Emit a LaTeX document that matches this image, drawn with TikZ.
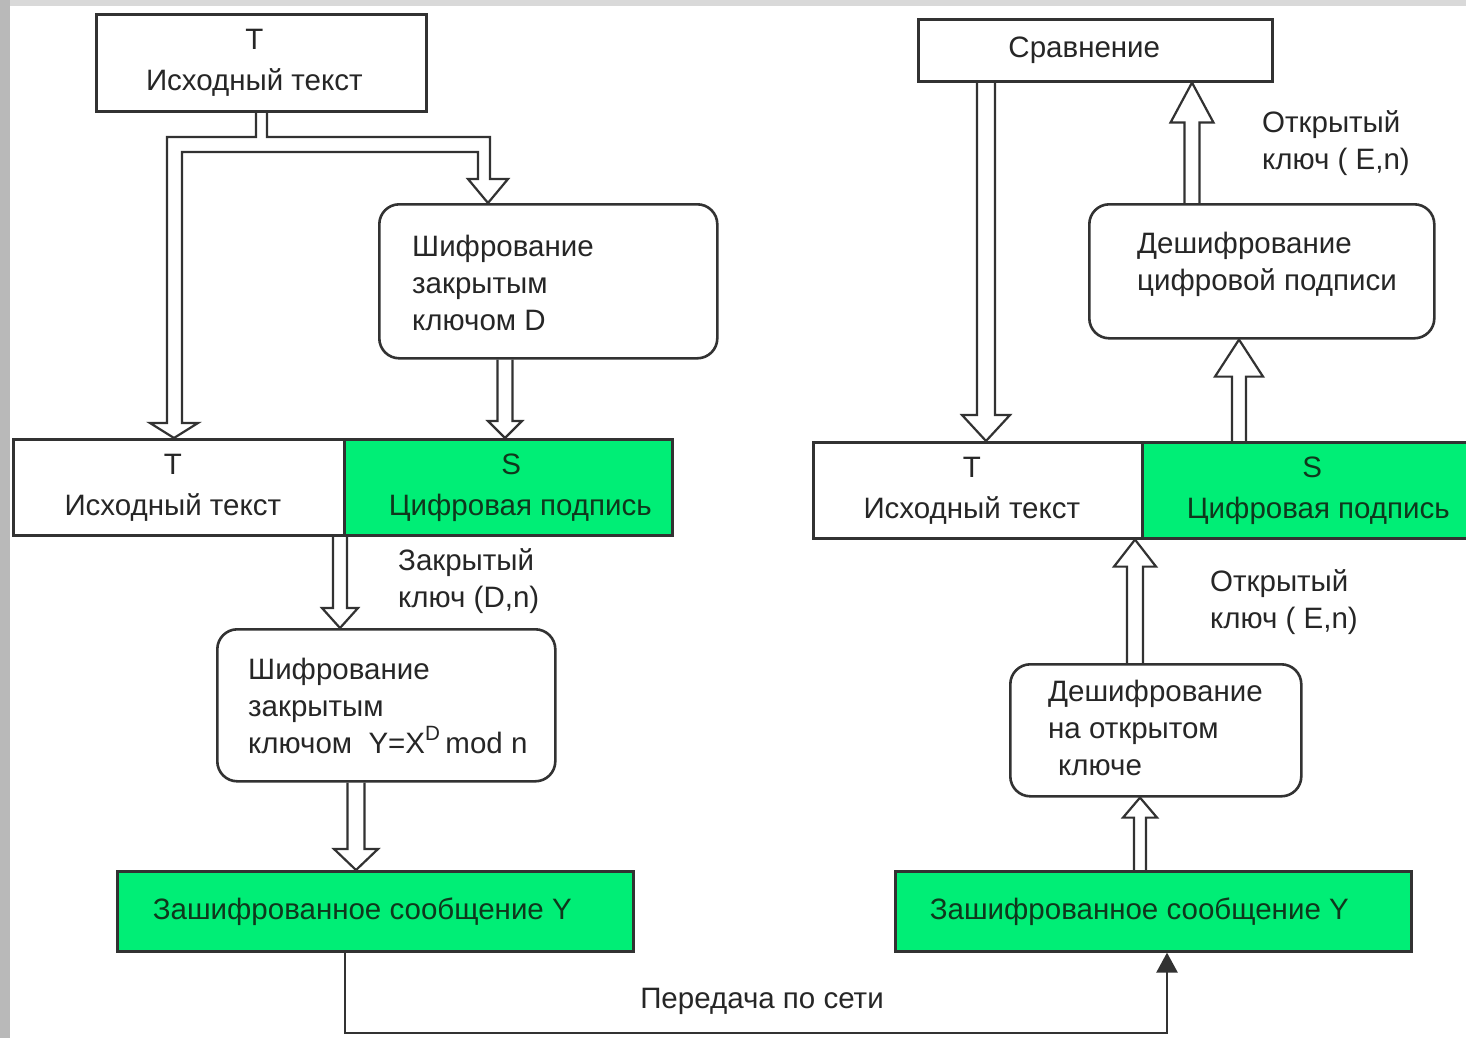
\documentclass[tikz,border=0pt]{standalone}
\usepackage{fontspec}
\setmainfont{Liberation Sans}
\usetikzlibrary{arrows.meta,calc}
\definecolor{grn}{RGB}{0,238,118}
\definecolor{ln}{RGB}{50,50,50}
\definecolor{txt}{RGB}{38,38,38}
\definecolor{gtxt}{RGB}{15,55,28}
\newcommand\dgfont{\fontsize{29.5}{37}\selectfont}
\newcommand\harrow[5]{%
  \path[hollow] ($(#1)+(-#3,0)$) -- ($(#2)+(-#3,#5)$) -- ($(#2)+(-#3-#4,#5)$) -- (#2)
    -- ($(#2)+(#3+#4,#5)$) -- ($(#2)+(#3,#5)$) -- ($(#1)+(#3,0)$);}
\tikzset{
  box/.style={draw=ln, line width=2.6pt, rectangle, anchor=north west, inner sep=0pt,
    align=center, text=txt, font=\dgfont},
  gbox/.style={box, fill=grn, text=gtxt},
  rbox/.style={box, rounded corners=20pt},
  hollow/.style={draw=ln, line width=2.2pt, line join=miter},
  lbl/.style={align=left, text=txt, font=\dgfont, inner sep=0pt},
  conn/.style={draw=ln, line width=2.5pt, -{Triangle[length=20pt,width=21pt]}},
}
\begin{document}
\begin{tikzpicture}[x=1pt,y=-1pt]
\useasboundingbox (0,0) rectangle (1466,1038);
\fill[white] (0,0) rectangle (1466,1038);
\fill[gray!55] (0,0) rectangle (10,1038);
\fill[gray!30] (10,0) rectangle (1466,6);

% left column
\node[box, minimum width=330pt, minimum height=97pt] (A) at (95,13)
  {T\hspace*{14pt}\\[4pt]Исходный текст\hspace*{14pt}};
\node[rbox, minimum width=338pt, minimum height=154pt] (B) at (378,203) {};
\node[lbl, anchor=west] (Bt) at ($(B.west)+(34,2)$) {Шифрование\\закрытым\\ключом D};
\node[box, minimum width=331pt, minimum height=96pt] (R1T) at (12,438)
  {T\hspace*{12pt}\\[4pt]Исходный текст\hspace*{12pt}};
\node[gbox, minimum width=328pt, minimum height=96pt] (R1S) at (343,438)
  {\hspace*{6pt}S\\[4pt]\hspace*{24pt}Цифровая подпись};
\node[rbox, minimum width=338pt, minimum height=152pt] (C) at (216,628) {};
\node[lbl, anchor=west] (Ct) at ($(C.west)+(32,1)$)
  {Шифрование\\закрытым\\ключом\ \ Y=X\raisebox{4pt}{\textsuperscript{D}}\,mod n};
\node[gbox, minimum width=516pt, minimum height=80pt] (YL) at (116,870)
  {Зашифрованное сообщение Y\hspace*{26pt}};

% right column
\node[box, minimum width=354pt, minimum height=62pt] (Cmp) at (917,18) {Сравнение\hspace*{22pt}};
\node[rbox, minimum width=345pt, minimum height=134pt] (F) at (1088,203) {};
\node[lbl, anchor=west] (Ft) at ($(F.west)+(49,-7)$) {Дешифрование\\цифровой подписи};
\node[box, minimum width=329pt, minimum height=96pt] (R2T) at (812,441)
  {T\hspace*{12pt}\\[4pt]Исходный текст\hspace*{12pt}};
\node[gbox, minimum width=340pt, minimum height=96pt] (R2S) at (1141,441)
  {S\\[4pt]\hspace*{12pt}Цифровая подпись};
\node[rbox, minimum width=291pt, minimum height=132pt] (E) at (1009,663) {};
\node[lbl, anchor=west] (Et) at ($(E.west)+(39,-2)$) {Дешифрование\\на открытом\\\hspace*{10pt}ключе};
\node[gbox, minimum width=516pt, minimum height=80pt] (YR) at (894,870)
  {Зашифрованное сообщение Y\hspace*{28pt}};

% labels
\node[lbl, anchor=west] (l1) at (398,581) {Закрытый\\ключ (D,n)};
\node[lbl, anchor=west] (l2) at (1210,602) {Открытый\\ключ ( E,n)};
\node[lbl, anchor=west] (l3) at (1262,143) {Открытый\\ключ ( E,n)};
\node[lbl] (l4) at (762,1001) {Передача по сети};

% split hollow arrow from A
\path[hollow] (256,0 |- A.south) -- (256,137) -- (167,137) -- (167,423) -- (150,423)
  -- (174,0 |- R1T.north) -- (198,423) -- (182,423) -- (182,152) -- (478,152) -- (478,179)
  -- (468,179) -- (488,0 |- B.north) -- (508,179) -- (490,179) -- (490,137) -- (267,137)
  -- (267,0 |- A.south);

% hollow arrows
\harrow{505,0 |- B.south}{505,0 |- R1S.north}{7.5}{9.5}{-17}
\harrow{340,0 |- R1T.south}{340,0 |- C.north}{7}{11}{-20}
\harrow{356,0 |- C.south}{356,0 |- YL.north}{8.5}{13.5}{-21}
\harrow{986,0 |- Cmp.south}{986,0 |- R2T.north}{9}{15}{-26}
\harrow{1239,0 |- R2S.north}{1239,0 |- F.south}{7}{17}{37}
\harrow{1192,0 |- F.north}{1192,0 |- Cmp.south}{7.5}{14}{40}
\harrow{1135,0 |- E.north}{1135,0 |- R2T.south}{8}{13}{27}
\harrow{1140,0 |- YR.north}{1140,0 |- E.south}{6}{11}{20}

% network connector
\draw[conn] (345,0 |- YL.south) -- (345,1033) -- (1167,1033) -- (1167,0 |- YR.south);
\end{tikzpicture}
\end{document}
